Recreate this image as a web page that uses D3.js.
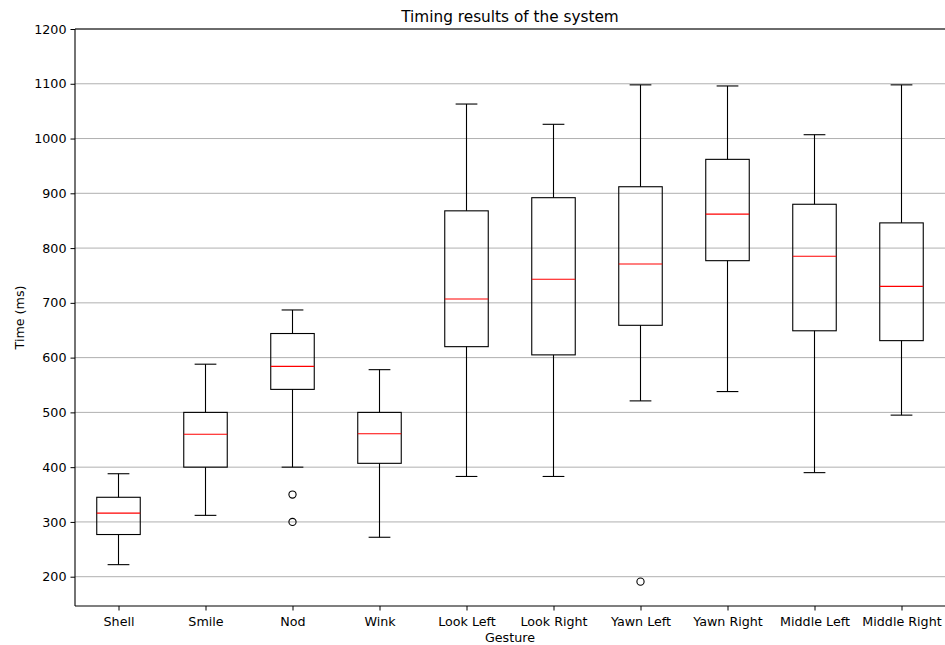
<!DOCTYPE html>
<html>
<head>
<meta charset="utf-8">
<script src="https://cdn.jsdelivr.net/npm/d3@7"></script>
<style>
  html, body { margin: 0; padding: 0; background: #fff; }
  svg { display: block; font-family: "DejaVu Sans", sans-serif; }
</style>
</head>
<body>
<svg id="chart" width="945" height="645"></svg>
<script>
const categories = ["Shell", "Smile", "Nod", "Wink", "Look Left", "Look Right", "Yawn Left", "Yawn Right", "Middle Left", "Middle Right"];
const whiskerLow  = [222, 312, 400, 272, 383, 383, 521, 538, 390, 495];
const q1          = [277, 400, 542, 407, 620, 605, 659, 777, 649, 631];
const median      = [316, 460, 584, 461, 707, 743, 771, 862, 785, 730];
const q3          = [345, 500, 644, 500, 868, 892, 912, 962, 880, 846];
const whiskerHigh = [388, 588, 687, 578, 1063, 1026, 1098, 1096, 1007, 1098];
const outliers = [[], [], [350, 300], [], [], [], [191], [], [], []];
const yTicks = [200, 300, 400, 500, 600, 700, 800, 900, 1000, 1100, 1200];
const yDomain = [146.5, 1200];
const title = "Timing results of the system";
const xLabel = "Gesture";
const yLabel = "Time (ms)";

const mLeft = 75, mRight = 945, mTop = 29, mBottom = 606;
const svg = d3.select("#chart");

const x = d3.scaleLinear().domain([0.5, categories.length + 0.5]).range([mLeft, mRight]);
const y = d3.scaleLinear().domain(yDomain).range([mBottom, mTop]);
const unit = x(2) - x(1);
const boxW = 0.5 * unit, capW = 0.25 * unit;

// grid
svg.append("g").selectAll("line").data(yTicks).join("line")
  .attr("x1", mLeft).attr("x2", mRight)
  .attr("y1", d => y(d)).attr("y2", d => y(d))
  .attr("stroke", "#b0b0b0").attr("stroke-width", 1);

// y axis
const yAxis = svg.append("g").attr("transform", `translate(${mLeft},0)`)
  .call(d3.axisLeft(y).tickValues(yTicks).tickSize(4.5).tickPadding(4).tickFormat(d3.format("d")));
yAxis.select(".domain").remove();
yAxis.selectAll("text").attr("font-size", "12.7px").attr("fill", "#000").attr("font-family", "DejaVu Sans");
yAxis.selectAll("line").attr("stroke", "#000");

// x axis
const xAxis = svg.append("g").attr("transform", `translate(0,${mBottom})`)
  .call(d3.axisBottom(x).tickValues(categories.map((c, i) => i + 1)).tickSize(4.5).tickPadding(6)
    .tickFormat(d => categories[d - 1]));
xAxis.select(".domain").remove();
xAxis.selectAll("text").attr("font-size", "12.7px").attr("fill", "#000").attr("font-family", "DejaVu Sans");
xAxis.selectAll("line").attr("stroke", "#000");

// boxes
const data = categories.map((c, i) => ({
  pos: i + 1, lo: whiskerLow[i], q1: q1[i], med: median[i], q3: q3[i], hi: whiskerHigh[i], out: outliers[i]
}));
const g = svg.append("g").selectAll("g").data(data).join("g");
const cx = d => x(d.pos);
// whiskers
g.append("line").attr("x1", cx).attr("x2", cx).attr("y1", d => y(d.q3)).attr("y2", d => y(d.hi))
  .attr("stroke", "#000").attr("stroke-width", 1.1);
g.append("line").attr("x1", cx).attr("x2", cx).attr("y1", d => y(d.q1)).attr("y2", d => y(d.lo))
  .attr("stroke", "#000").attr("stroke-width", 1.1);
// caps
g.append("line").attr("x1", d => x(d.pos) - capW / 2).attr("x2", d => x(d.pos) + capW / 2)
  .attr("y1", d => y(d.hi)).attr("y2", d => y(d.hi)).attr("stroke", "#000").attr("stroke-width", 1.1);
g.append("line").attr("x1", d => x(d.pos) - capW / 2).attr("x2", d => x(d.pos) + capW / 2)
  .attr("y1", d => y(d.lo)).attr("y2", d => y(d.lo)).attr("stroke", "#000").attr("stroke-width", 1.1);
// box
g.append("rect").attr("x", d => x(d.pos) - boxW / 2).attr("width", boxW)
  .attr("y", d => y(d.q3)).attr("height", d => y(d.q1) - y(d.q3))
  .attr("fill", "none").attr("stroke", "#000").attr("stroke-width", 1.1);
// median
g.append("line").attr("x1", d => x(d.pos) - boxW / 2).attr("x2", d => x(d.pos) + boxW / 2)
  .attr("y1", d => y(d.med)).attr("y2", d => y(d.med)).attr("stroke", "#ff0000").attr("stroke-width", 1.1);
// outliers
g.selectAll("circle").data(d => d.out.map(v => ({ pos: d.pos, v }))).join("circle")
  .attr("cx", d => x(d.pos)).attr("cy", d => y(d.v)).attr("r", 3.6)
  .attr("fill", "none").attr("stroke", "#000").attr("stroke-width", 1.1);

// spines (right spine falls at the image edge)
const spines = svg.append("g").attr("stroke", "#000").attr("stroke-width", 1.1);
spines.append("line").attr("x1", mLeft).attr("x2", mLeft).attr("y1", mTop).attr("y2", mBottom);
spines.append("line").attr("x1", mLeft).attr("x2", mRight + 1).attr("y1", mTop).attr("y2", mTop);
spines.append("line").attr("x1", mLeft).attr("x2", mRight + 1).attr("y1", mBottom).attr("y2", mBottom);

// labels
svg.append("text").attr("x", (mLeft + mRight) / 2).attr("y", 22).attr("text-anchor", "middle")
  .attr("font-size", "15.3px").attr("fill", "#000").text(title);
svg.append("text").attr("x", (mLeft + mRight) / 2).attr("y", 642).attr("text-anchor", "middle")
  .attr("font-size", "12.7px").attr("fill", "#000").text(xLabel);
svg.append("text").attr("transform", `translate(24,${(mTop + mBottom) / 2}) rotate(-90)`).attr("text-anchor", "middle")
  .attr("font-size", "12.7px").attr("fill", "#000").text(yLabel);
</script>
</body>
</html>
